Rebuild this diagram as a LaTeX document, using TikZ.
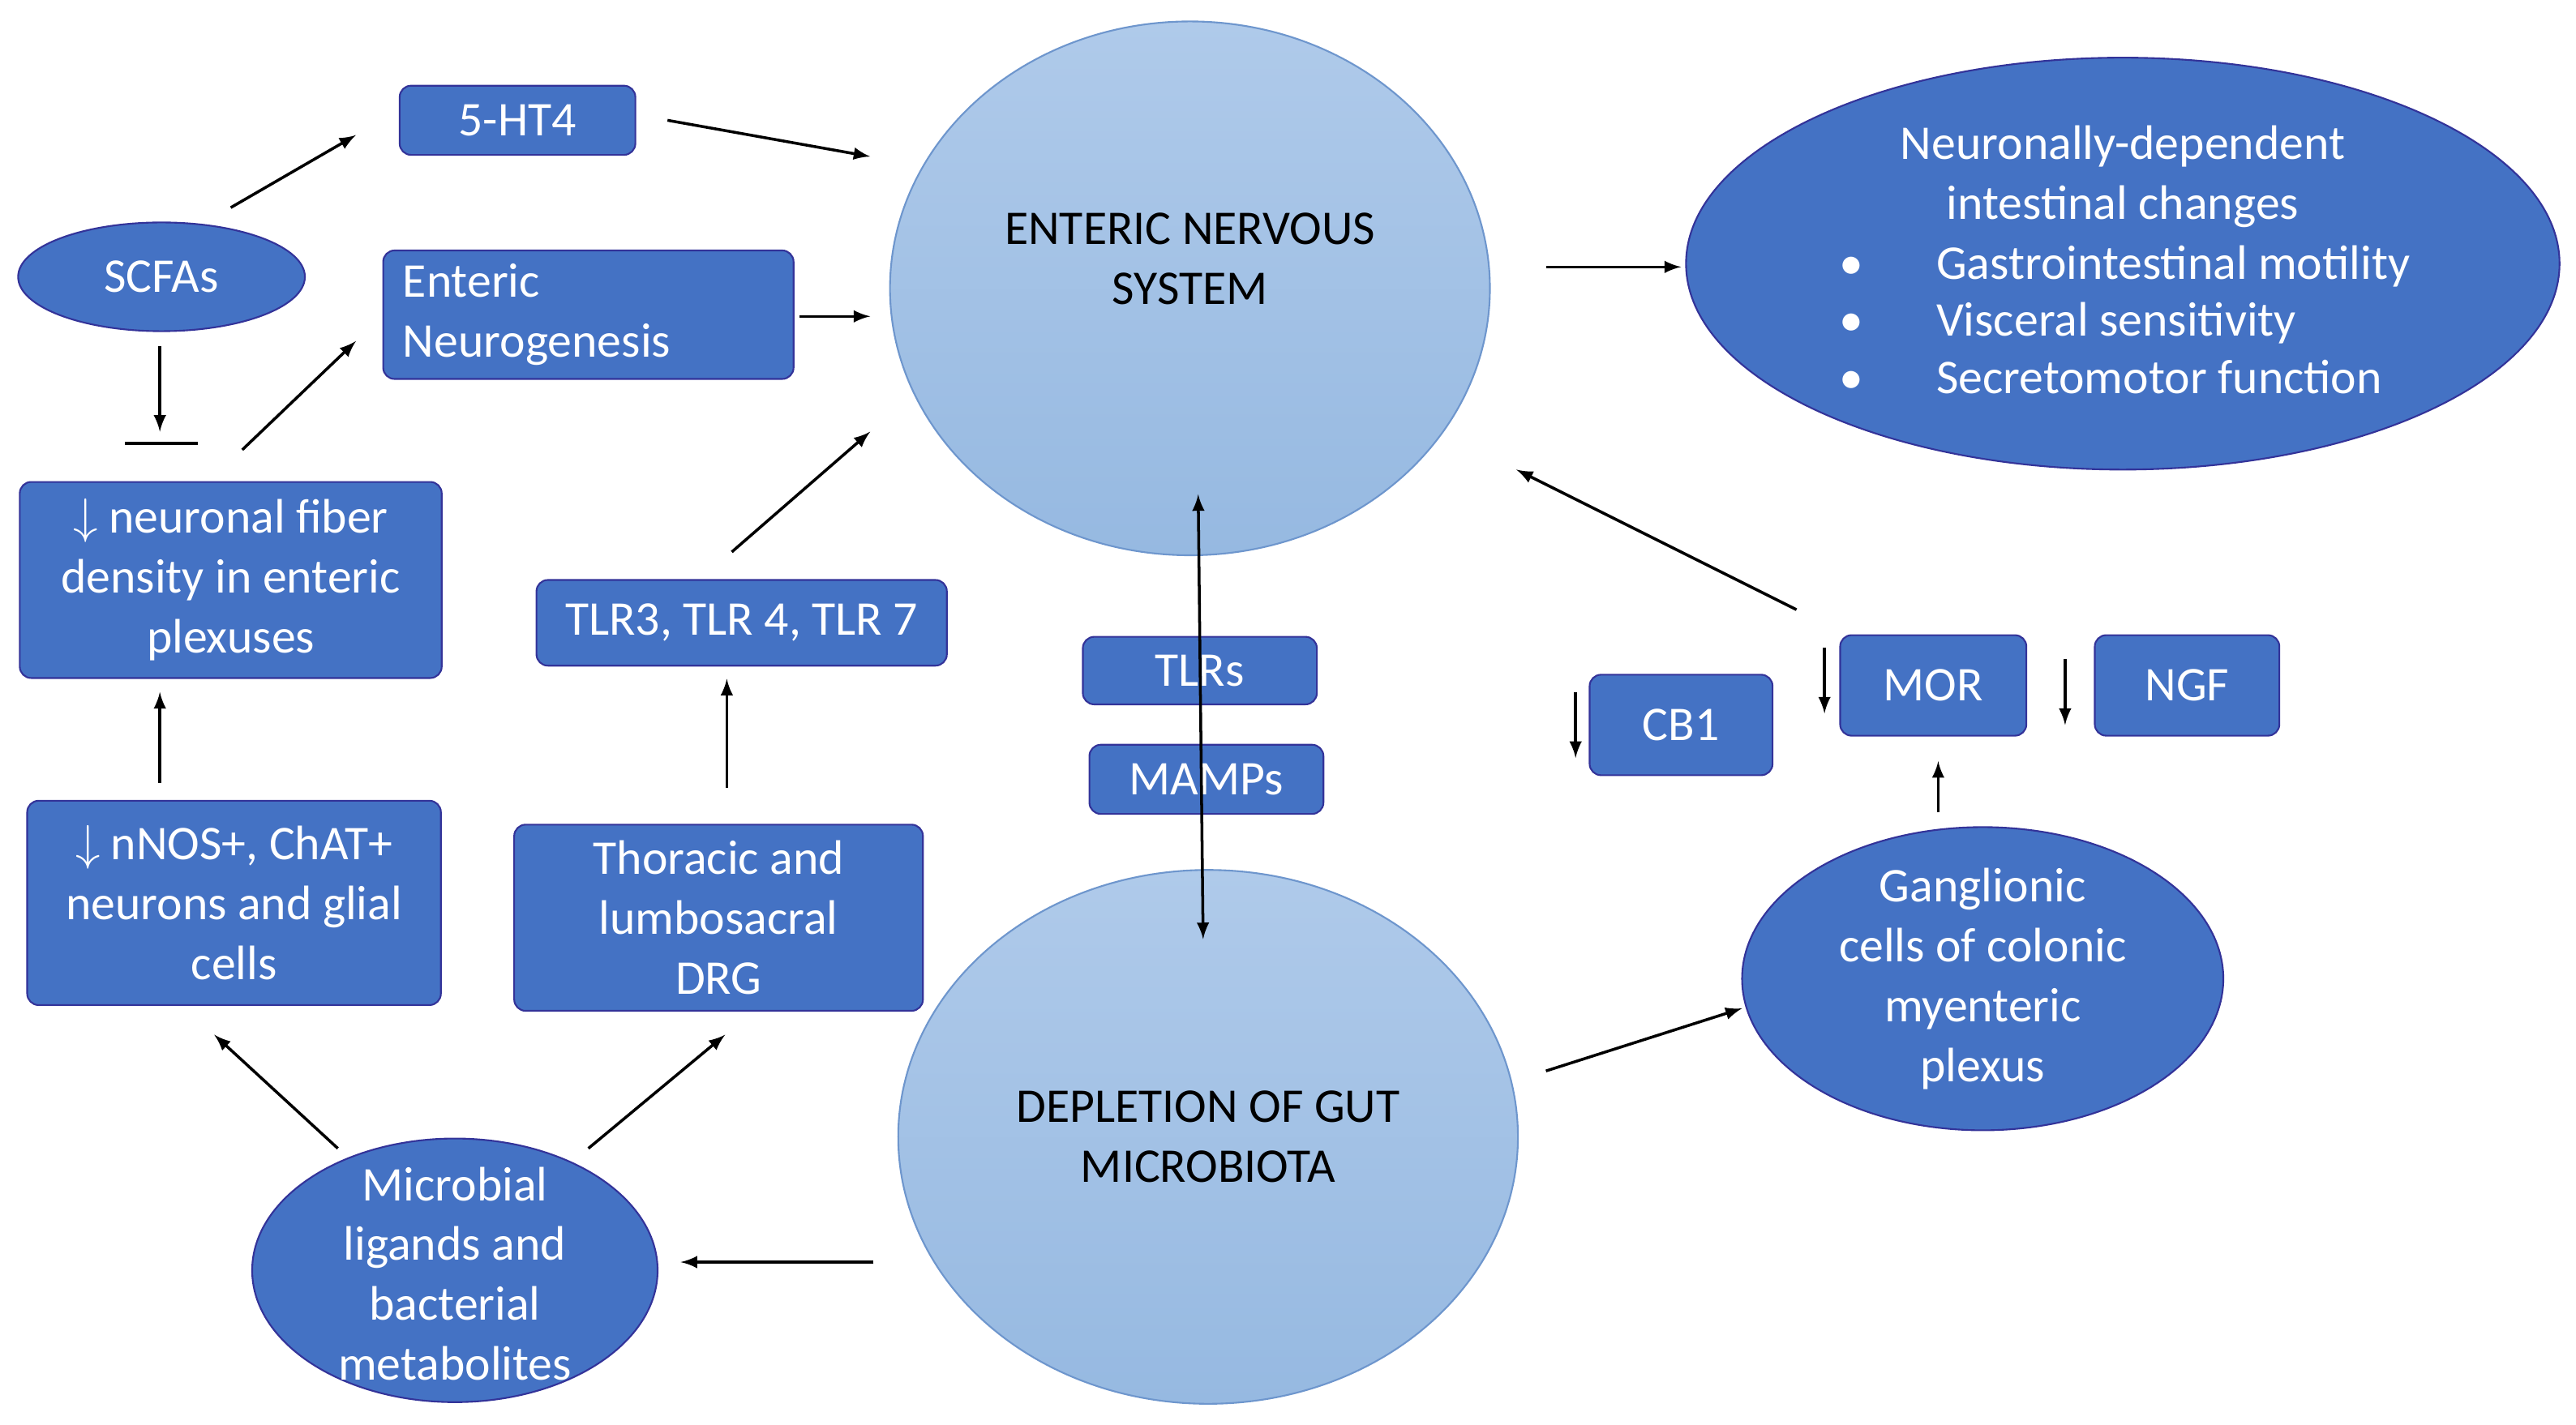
\documentclass[tikz,border=0pt]{standalone}
\usepackage{fontspec}
\setmainfont{Carlito}
\begin{document}
\begin{tikzpicture}[x=0.02033cm,y=-0.02033cm,
 dbox/.style={draw=blue!50!black!80,line width=0.6pt,fill={rgb,255:red,68;green,114;blue,196},rounded corners=4pt,text=white,font=\fontsize{17}{21}\selectfont,align=center,inner sep=0pt},
 dell/.style={draw=blue!50!black!80,line width=0.6pt,fill={rgb,255:red,68;green,114;blue,196},ellipse,text=white,font=\fontsize{17}{21}\selectfont,align=center,inner sep=0pt},
 lcirc/.style={draw={rgb,255:red,110;green,150;blue,205},line width=0.6pt,top color={rgb,255:red,175;green,202;blue,234},bottom color={rgb,255:red,150;green,185;blue,225},font=\fontsize{17}{21}\selectfont,align=center},
 arr/.style={-latex,line width=1pt}]
\useasboundingbox (0,0) rectangle (1563,864.4);
\tikzset{el/.style args={#1/#2}{}}
% light circles
\draw[lcirc] (722,175) ellipse (182 and 162);
\node[font=\fontsize{17}{21}\selectfont,align=center] (ens) at (722,157) {ENTERIC NERVOUS\\SYSTEM};
\draw[lcirc] (733,690) ellipse (188 and 162);
\node[font=\fontsize{17}{21}\selectfont,align=center] (dep) at (733,690) {DEPLETION OF GUT\\MICROBIOTA};
% dark ellipses
\draw[draw=blue!50!black!80,line width=0.6pt,fill={rgb,255:red,68;green,114;blue,196}] (98,168) ellipse (87 and 33);
\node[text=white,font=\fontsize{17}{21}\selectfont] (scfa) at (98,168) {SCFAs};
\draw[draw=blue!50!black!80,line width=0.6pt,fill={rgb,255:red,68;green,114;blue,196}] (1288,160) ellipse (265 and 125);
\node[text=white,font=\fontsize{17}{21}\selectfont,align=center] (ndc) at (1288,107) {Neuronally-dependent\\intestinal changes};
\node[text=white,font=\fontsize{17}{21}\selectfont,align=left,anchor=north west] (lst) at (1110,143) {\textbullet\hspace{1.5em}Gastrointestinal motility\\[-1pt]\textbullet\hspace{1.5em}Visceral sensitivity\\[-1pt]\textbullet\hspace{1.5em}Secretomotor function};
\draw[draw=blue!50!black!80,line width=0.6pt,fill={rgb,255:red,68;green,114;blue,196}] (1203,594) ellipse (146 and 92);
\node[text=white,font=\fontsize{17}{21}\selectfont,align=center] (gang) at (1203,594) {Ganglionic\\cells of colonic\\myenteric\\plexus};
\draw[draw=blue!50!black!80,line width=0.6pt,fill={rgb,255:red,68;green,114;blue,196}] (276,771) ellipse (123 and 80);
\node[text=white,font=\fontsize{17}{21}\selectfont,align=center] (mic) at (276,773) {Microbial\\ligands and\\bacterial\\metabolites};
% boxes
\node[dbox,minimum width=143*0.02033cm,minimum height=42*0.02033cm] (ht4) at (314,73) {5-HT4};
\node[dbox,minimum width=249*0.02033cm,minimum height=78*0.02033cm,align=left,text width=225*0.02033cm] (eng) at (357,191) {Enteric\\Neurogenesis};
\node[dbox,minimum width=256*0.02033cm,minimum height=119*0.02033cm] (nfd) at (140,352) {$\downarrow$ neuronal fiber\\density in enteric\\plexuses};
\node[dbox,minimum width=249*0.02033cm,minimum height=52*0.02033cm] (tlr3) at (450,378) {TLR3, TLR 4, TLR 7};
\node[dbox,minimum width=142*0.02033cm,minimum height=41*0.02033cm] (tlrs) at (728,407) {TLRs};
\node[dbox,minimum width=142*0.02033cm,minimum height=42*0.02033cm] (mamp) at (732,473) {MAMPs};
\node[dbox,minimum width=111*0.02033cm,minimum height=61*0.02033cm] (cb1) at (1020,440) {CB1};
\node[dbox,minimum width=113*0.02033cm,minimum height=61*0.02033cm] (mor) at (1173,416) {MOR};
\node[dbox,minimum width=112*0.02033cm,minimum height=61*0.02033cm] (ngf) at (1327,416) {NGF};
\node[dbox,minimum width=251*0.02033cm,minimum height=124*0.02033cm] (nnos) at (142,548) {$\downarrow$ nNOS+, ChAT+\\neurons and glial\\cells};
\node[dbox,minimum width=248*0.02033cm,minimum height=113*0.02033cm] (thor) at (436,557) {Thoracic and\\lumbosacral\\DRG};
% arrows
\draw[arr] (140,126) -- (216,82);
\draw[arr] (405,73) -- (528,95);
\draw[arr] (485,192) -- (528,192);
\draw[arr] (97,210) -- (97,262);
\draw[line width=1pt] (76,269) -- (120,269);
\draw[arr] (147,273) -- (216,207);
\draw[arr] (97,475) -- (97,420);
\draw[arr] (444,335) -- (528,262);
\draw[arr] (441,478) -- (441,412);
\draw[arr] (205,697) -- (130,628);
\draw[arr] (357,697) -- (440,628);
\draw[arr] (530,766) -- (413,766);
\draw[latex-latex,line width=1pt] (727,300) -- (730,570);
\draw[arr] (938,162) -- (1020,162);
\draw[arr] (1090,370) -- (920,285);
\draw[arr] (1176,493) -- (1176,462);
\draw[arr] (938,650) -- (1057,612);
\draw[arr] (956,420) -- (956,460);
\draw[arr] (1107,393) -- (1107,433);
\draw[arr] (1253,400) -- (1253,440);
\end{tikzpicture}
\end{document}
